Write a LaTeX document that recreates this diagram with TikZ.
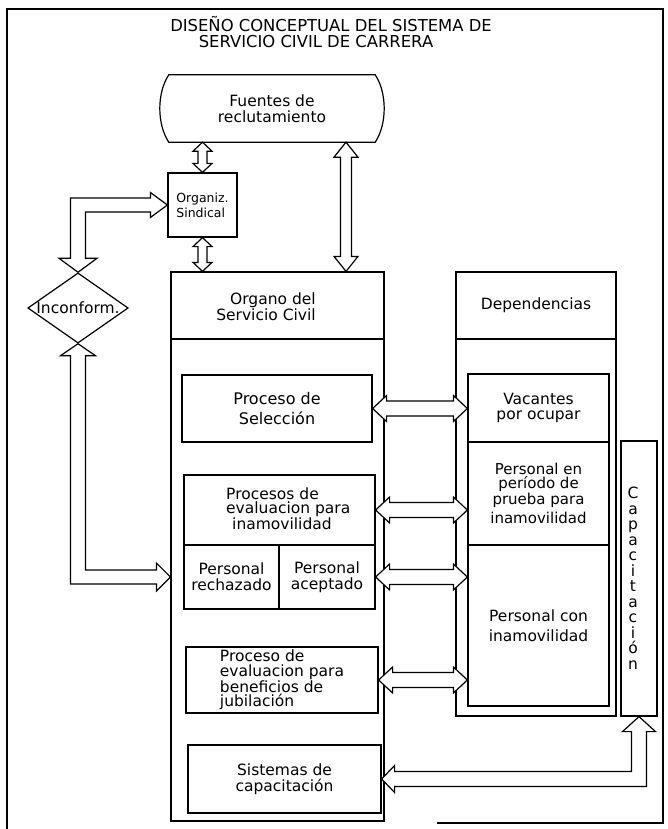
\documentclass[tikz,border=0pt]{standalone}
\usepackage{fontspec}
\setmainfont{DejaVu Sans}
\usetikzlibrary{calc,shapes.geometric}
\newcommand{\hblock}[5]{% horizontal double block arrow: left tip #1, right tip #2, shaft half #3, head half #4, head length #5
  \draw[barrow] (#1) -- ($(#1)+(#5,-#4)$) -- ($(#1)+(#5,-#3)$) -- ($(#2)+(-#5,-#3)$) -- ($(#2)+(-#5,-#4)$) -- (#2)
    -- ($(#2)+(-#5,#4)$) -- ($(#2)+(-#5,#3)$) -- ($(#1)+(#5,#3)$) -- ($(#1)+(#5,#4)$) -- cycle;}
\newcommand{\vblock}[5]{% vertical double block arrow: top tip #1, bottom tip #2
  \draw[barrow] (#1) -- ($(#1)+(#4,#5)$) -- ($(#1)+(#3,#5)$) -- ($(#2)+(#3,-#5)$) -- ($(#2)+(#4,-#5)$) -- (#2)
    -- ($(#2)+(-#4,-#5)$) -- ($(#2)+(-#3,-#5)$) -- ($(#1)+(-#3,#5)$) -- ($(#1)+(-#4,#5)$) -- cycle;}
\begin{document}
\begin{tikzpicture}[x=1pt,y=-1pt,
  every node/.style={font=\fontsize{15.5}{15.5}\selectfont},
  box/.style={draw, line width=1.2pt, inner sep=0pt, align=center},
  txt/.style={inner sep=0pt, align=center},
  barrow/.style={draw, line width=1.2pt, fill=white, line join=miter},
  frame/.style={line width=1.2pt}]
\useasboundingbox (0,0) rectangle (668,829);

% outer frame
\draw[frame] (7,829) -- (7,9) -- (663,9) -- (663,823) -- (437,823);

% title
\node[txt, anchor=base, font=\fontsize{16.4}{18}\selectfont] (t1) at (331,32) {DISEÑO CONCEPTUAL DEL SISTEMA DE};
\node[txt, anchor=base, font=\fontsize{16.4}{18}\selectfont] (t2) at (316,48) {SERVICIO CIVIL DE CARRERA};

% Fuentes de reclutamiento
\node[txt, minimum width=206pt, minimum height=67pt] (fue) at (272,108.5) {Fuentes de\\reclutamiento};
\draw[frame] (fue.north west) -- (fue.north east)
  .. controls ($(fue.north east)+(12,18)$) and ($(fue.south east)+(12,-18)$) .. (fue.south east)
  -- (fue.south west)
  .. controls ($(fue.south west)+(-12,-18)$) and ($(fue.north west)+(-12,18)$) .. (fue.north west) -- cycle;

% Organiz. Sindical
\node[box, align=left, minimum width=69pt, minimum height=64pt, font=\fontsize{12.5}{15}\selectfont] (org) at (202.5,205) {Organiz.\\Sindical};

% Organo del Servicio Civil
\node[box, minimum width=213pt, minimum height=67pt] (osc) at (277.5,305.5) {};
\node[txt, align=right, font=\fontsize{15.5}{14}\selectfont] (oscT) at (266,307) {Organo del\\Servicio Civil};
\node[box, minimum width=213pt, minimum height=482pt] (oscb) at (277.5,580) {};

% Dependencias
\node[box, minimum width=160pt, minimum height=67pt] (dep) at (536,305.5) {Dependencias};
\node[box, minimum width=160pt, minimum height=377pt] (depb) at (536,527.5) {};

% boxes inside Organo
\node[box, minimum width=190pt, minimum height=67pt, font=\fontsize{16}{20}\selectfont] (sel) at (277,408.5) {Proceso de\\Selección};
\node[box, minimum width=191pt, minimum height=70pt] (pev) at (279.5,510) {};
\node[txt, align=left, anchor=west, font=\fontsize{15.5}{14}\selectfont] (pevT) at (226,509) {Procesos de\\evaluacion para\\\hspace*{6pt}inamovilidad};
\node[box, minimum width=95pt, minimum height=64pt, font=\fontsize{15.5}{16}\selectfont] (rech) at (231.5,577) {Personal\\rechazado};
\node[box, minimum width=96pt, minimum height=64pt, font=\fontsize{15.5}{16}\selectfont] (acep) at (327,577) {Personal\\aceptado};
\node[box, align=left, minimum width=192pt, minimum height=66pt, font=\fontsize{15.5}{14.7}\selectfont] (jub) at (282,680) {Proceso de\\evaluacion para\\beneficios de\\jubilación};
\node[box, minimum width=193pt, minimum height=68pt, font=\fontsize{15.5}{16}\selectfont] (sis) at (284.5,779) {Sistemas de\\capacitación};

% boxes inside Dependencias
\node[box, minimum width=141pt, minimum height=68pt] (vac) at (538.5,408) {Vacantes\\por ocupar};
\node[box, minimum width=141pt, minimum height=103pt, font=\fontsize{15}{14.5}\selectfont] (ppr) at (538.5,493.5) {Personal en\\período de\\prueba para\\[4pt]inamovilidad};
\node[box, minimum width=141pt, minimum height=161pt, font=\fontsize{15.5}{20}\selectfont] (pci) at (538.5,625.5) {Personal con\\inamovilidad};

% Capacitacion
\node[box, minimum width=36pt, minimum height=275pt] (cap) at (639,578.5) {};
\node[txt, font=\fontsize{15.5}{15.5}\selectfont] (capT) at (633,578) {C\\a\\p\\a\\c\\i\\t\\a\\c\\i\\ó\\n};

% Inconform.
\node[draw, line width=1.2pt, diamond, aspect=1.43, inner sep=0pt, font=\fontsize{15.5}{16}\selectfont] (inc) at (78,308) {Inconform.};

% vertical arrows at the top
\coordinate (v1t) at (org.north |- fue.south);
\vblock{v1t}{org.north}{4.5}{9.5}{9}
\coordinate (v2b) at (org.south |- osc.north);
\vblock{org.south}{v2b}{4.5}{9.5}{9}
\coordinate (v3t) at (fue.south -| 346,0);
\coordinate (v3b) at (v3t |- osc.north);
\vblock{v3t}{v3b}{5.5}{12}{15}

% horizontal arrows Organo <-> Dependencias
\coordinate (h1b) at (vac.west |- sel.east);
\hblock{sel.east}{h1b}{7.5}{13}{14}
\coordinate (h2b) at (ppr.west |- pev.east);
\hblock{pev.east}{h2b}{7.5}{13}{14}
\coordinate (h3b) at (pci.west |- acep.east);
\hblock{acep.east}{h3b}{7.5}{13}{14}
\coordinate (h4b) at (pci.west |- jub.east);
\hblock{jub.east}{h4b}{7.5}{13}{14}

% Inconform. <-> Organiz. Sindical
\coordinate (ulc) at (org.west -| inc.north);
\draw[barrow] (org.west) -- ($(org.west)+(-17,-12.5)$) -- ($(org.west)+(-17,-7)$) -- ($(ulc)+(-7.5,-7)$)
  -- ($(inc.north)+(-7.5,-14)$) -- ($(inc.north)+(-19,-14)$) -- (inc.north) -- ($(inc.north)+(19,-14)$)
  -- ($(inc.north)+(7.5,-14)$) -- ($(ulc)+(7.5,7)$) -- ($(org.west)+(-17,7)$) -- ($(org.west)+(-17,12.5)$) -- cycle;

% Inconform. <-> Organo (personal rechazado)
\coordinate (llA) at (oscb.west |- acep.east);
\coordinate (llc) at (llA -| inc.south);
\draw[barrow] (inc.south) -- ($(inc.south)+(17.5,12)$) -- ($(inc.south)+(7.5,12)$) -- ($(llc)+(7.5,-7)$)
  -- ($(llA)+(-14,-7)$) -- ($(llA)+(-14,-14)$) -- (llA) -- ($(llA)+(-14,14)$) -- ($(llA)+(-14,7)$)
  -- ($(llc)+(-7.5,7)$) -- ($(inc.south)+(-7.5,12)$) -- ($(inc.south)+(-17.5,12)$) -- cycle;

% Capacitacion <-> Sistemas de capacitacion
\coordinate (brc) at (sis.east -| cap.south);
\draw[barrow] (sis.east) -- ($(sis.east)+(13,-13.5)$) -- ($(sis.east)+(13,-7.5)$) -- ($(brc)+(-7.5,-7.5)$)
  -- ($(cap.south)+(-7.5,15)$) -- ($(cap.south)+(-16.5,15)$) -- (cap.south) -- ($(cap.south)+(16.5,15)$)
  -- ($(cap.south)+(7.5,15)$) -- ($(brc)+(7.5,7.5)$) -- ($(sis.east)+(13,7.5)$) -- ($(sis.east)+(13,13.5)$) -- cycle;
\end{tikzpicture}
\end{document}
